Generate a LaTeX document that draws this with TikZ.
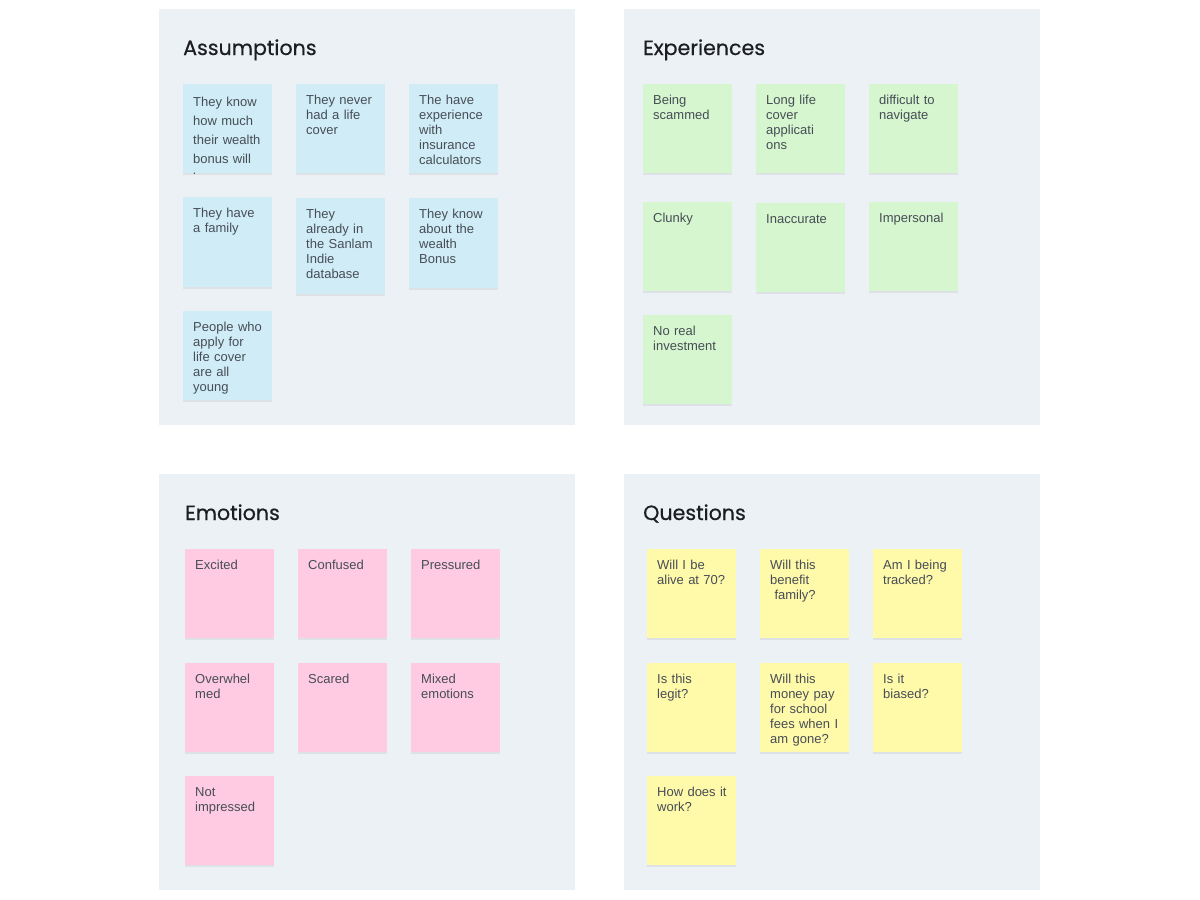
\documentclass[tikz,border=0pt]{standalone}
\usepackage{fontspec}
\setmainfont{Liberation Sans}
\newfontfamily\titlefont{Poppins}[FakeBold=0.5]
\definecolor{panel}{HTML}{ECF1F6}
\definecolor{sblue}{HTML}{D0EDF7}
\definecolor{sgreen}{HTML}{D5F6CF}
\definecolor{spink}{HTML}{FECBE3}
\definecolor{syellow}{HTML}{FFF9AA}
\definecolor{stext}{HTML}{474D55}
\definecolor{ttext}{HTML}{1C1E21}
\tikzset{
  panelbox/.style={fill=panel, draw=none},
  title/.style={anchor=base west, inner sep=0pt, text=ttext, font=\titlefont\fontsize{20.6}{24}\selectfont},
  stickybox/.style={anchor=north west, inner sep=0pt, minimum width=89pt, draw=none},
  stickytext/.style={anchor=north west, inner sep=0pt, text width=76pt, align=left, text=stext, font=\fontsize{13}{15}\selectfont},
}
\newcommand\mysticky[6]{%
  \fill[black!25,opacity=.3] (#2,#3+1.5) rectangle ++(89,#4);
  \node[stickybox, fill=#5, minimum height=#4pt] (#1) at (#2,#3) {};
  \node[stickytext] (#1t) at ([xshift=10pt,yshift=-11pt]#1.north west) {#6};
}
\begin{document}
\begin{tikzpicture}[x=1pt,y=-1pt]
\useasboundingbox (0,0) rectangle (1200,900);
\fill[white] (0,0) rectangle (1200,900);
% panels
\node[panelbox, anchor=north west, minimum width=416pt, minimum height=416pt, inner sep=0pt] (pA) at (159,9) {};
\node[panelbox, anchor=north west, minimum width=416pt, minimum height=416pt, inner sep=0pt] (pE) at (624,9) {};
\node[panelbox, anchor=north west, minimum width=416pt, minimum height=416pt, inner sep=0pt] (pM) at (159,474) {};
\node[panelbox, anchor=north west, minimum width=416pt, minimum height=416pt, inner sep=0pt] (pQ) at (624,474) {};
% titles
\node[title] (tA) at (183,55) {Assumptions};
\node[title] (tE) at (643,55) {Experiences};
\node[title] (tM) at (185,520) {Emotions};
\node[title] (tQ) at (643,520) {Questions};
% Assumptions
\fill[black!25,opacity=.3] (183,85.5) rectangle ++(89,89);
\node[stickybox, fill=sblue, minimum height=89pt] (a1) at (183,84) {};
\begin{scope}
\clip (183,84) rectangle ++(89,89);
\node[stickytext, font=\fontsize{13}{19}\selectfont] (a1t) at ([xshift=10pt,yshift=-13pt]a1.north west) {They know\\how much\\their wealth\\bonus will\\be};
\end{scope}
\mysticky{a2}{296}{84}{89}{sblue}{They never\\had a life\\cover}
\mysticky{a3}{409}{84}{89}{sblue}{The have\\experience\\with\\insurance\\calculators}
\mysticky{a4}{183}{197}{90}{sblue}{They have\\a family}
\mysticky{a5}{296}{198}{96}{sblue}{They\\already in\\the Sanlam\\Indie\\database}
\mysticky{a6}{409}{198}{90}{sblue}{They know\\about the\\wealth\\Bonus}
\mysticky{a7}{183}{311}{89}{sblue}{People who\\apply for\\life cover\\are all\\young}
% Experiences
\mysticky{e1}{643}{84}{89}{sgreen}{Being\\scammed}
\mysticky{e2}{756}{84}{89}{sgreen}{Long life\\cover\\applicati\\ons}
\mysticky{e3}{869}{84}{89}{sgreen}{difficult to\\navigate}
\mysticky{e4}{643}{202}{89}{sgreen}{Clunky}
\mysticky{e5}{756}{203}{89}{sgreen}{Inaccurate}
\mysticky{e6}{869}{202}{89}{sgreen}{Impersonal}
\mysticky{e7}{643}{315}{89}{sgreen}{No real\\investment}
% Emotions
\mysticky{m1}{185}{549}{89}{spink}{Excited}
\mysticky{m2}{298}{549}{89}{spink}{Confused}
\mysticky{m3}{411}{549}{89}{spink}{Pressured}
\mysticky{m4}{185}{663}{89}{spink}{Overwhel\\med}
\mysticky{m5}{298}{663}{89}{spink}{Scared}
\mysticky{m6}{411}{663}{89}{spink}{Mixed\\emotions}
\mysticky{m7}{185}{776}{89}{spink}{Not\\impressed}
% Questions
\mysticky{q1}{647}{549}{89}{syellow}{Will I be\\alive at 70?}
\mysticky{q2}{760}{549}{89}{syellow}{Will this\\benefit\\\ family?}
\mysticky{q3}{873}{549}{89}{syellow}{Am I being\\tracked?}
\mysticky{q4}{647}{663}{89}{syellow}{Is this\\legit?}
\mysticky{q5}{760}{663}{89}{syellow}{Will this\\money pay\\for school\\fees when I\\am gone?}
\mysticky{q6}{873}{663}{89}{syellow}{Is it\\biased?}
\mysticky{q7}{647}{776}{89}{syellow}{How does it\\work?}
\end{tikzpicture}
\end{document}
